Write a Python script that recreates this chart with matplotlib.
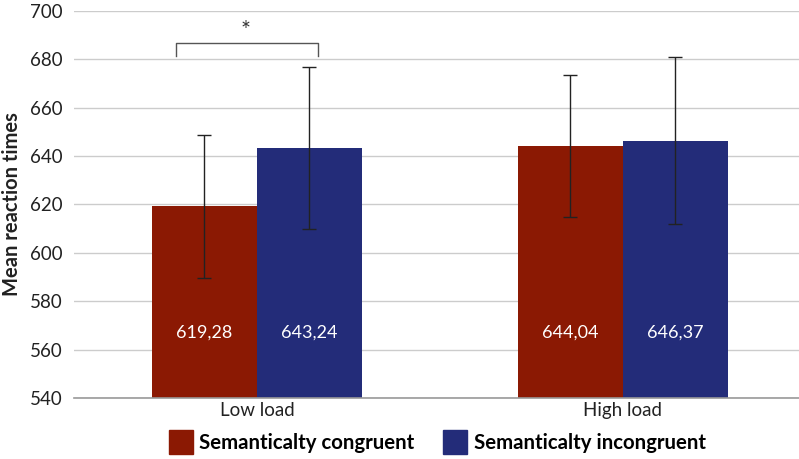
import matplotlib.pyplot as plt
import numpy as np
from matplotlib.lines import Line2D

plt.rcParams['font.family'] = ['Lato', 'DejaVu Sans']

groups = ["Low load", "High load"]
congruent = [619.28, 644.04]
incongruent = [643.24, 646.37]
congruent_err = [29.5, 29.3]
incongruent_err = [33.5, 34.5]
value_labels_c = ["619,28", "644,04"]
value_labels_i = ["643,24", "646,37"]
series_names = ["Semanticalty congruent", "Semanticalty incongruent"]

red = "#8B1903"
blue = "#232C79"
width = 0.287

fig = plt.figure(figsize=(7.99, 4.59), dpi=100)
ax = fig.add_axes([0.0926, 0.133, 0.9074, 0.843])

x = np.arange(len(groups))
ax.bar(x - width / 2, congruent, width, color=red, zorder=2)
ax.bar(x + width / 2, incongruent, width, color=blue, zorder=2)
ax.errorbar(x - width / 2, congruent, yerr=congruent_err, fmt='none',
            ecolor='#222222', elinewidth=1, capsize=5, capthick=1, zorder=3)
ax.errorbar(x + width / 2, incongruent, yerr=incongruent_err, fmt='none',
            ecolor='#222222', elinewidth=1, capsize=5, capthick=1, zorder=3)

for i in range(len(groups)):
    ax.text(x[i] - width / 2, 567, value_labels_c[i], color='white',
            ha='center', va='center', fontsize=13, zorder=4)
    ax.text(x[i] + width / 2, 567, value_labels_i[i], color='white',
            ha='center', va='center', fontsize=13, zorder=4)

# significance bracket
ax.plot([-0.222, -0.222, 0.166, 0.166], [681.5, 686.8, 686.8, 681.5],
        color='#555555', lw=1, zorder=3)
ax.text(-0.03, 692, "*", ha='center', va='center', fontsize=17, color='#333333')

ax.set_xlim(-0.5, 1.481)
ax.set_ylim(540, 700)
ax.set_yticks(np.arange(540, 701, 20))
ax.set_xticks(x)
ax.set_xticklabels(groups, fontsize=13.5, color='#222222')
ax.tick_params(axis='y', labelsize=13.5, colors='#222222', length=0, pad=8)
ax.tick_params(axis='x', length=0, pad=3)
ax.yaxis.grid(True, color='#cccccc', lw=1, zorder=0)
ax.set_axisbelow(True)
for s in ['top', 'right', 'left']:
    ax.spines[s].set_visible(False)
ax.spines['bottom'].set_color('#999999')
ax.spines['bottom'].set_linewidth(1.2)
ax.set_ylabel("Mean reaction times", fontsize=14.5, fontweight='bold', color='#222222')
ax.yaxis.set_label_coords(-0.072, 0.5)

handles = [Line2D([], [], marker='s', color=red, linestyle='none', markersize=17),
           Line2D([], [], marker='s', color=blue, linestyle='none', markersize=17)]
fig.legend(handles, series_names, loc='center', bbox_to_anchor=(0.547, 0.035),
           ncol=2, frameon=False, prop={'weight': 'bold', 'size': 14.7},
           handletextpad=0.3, columnspacing=1.4, handlelength=1.2)

fig.savefig("out.png", dpi=100)
